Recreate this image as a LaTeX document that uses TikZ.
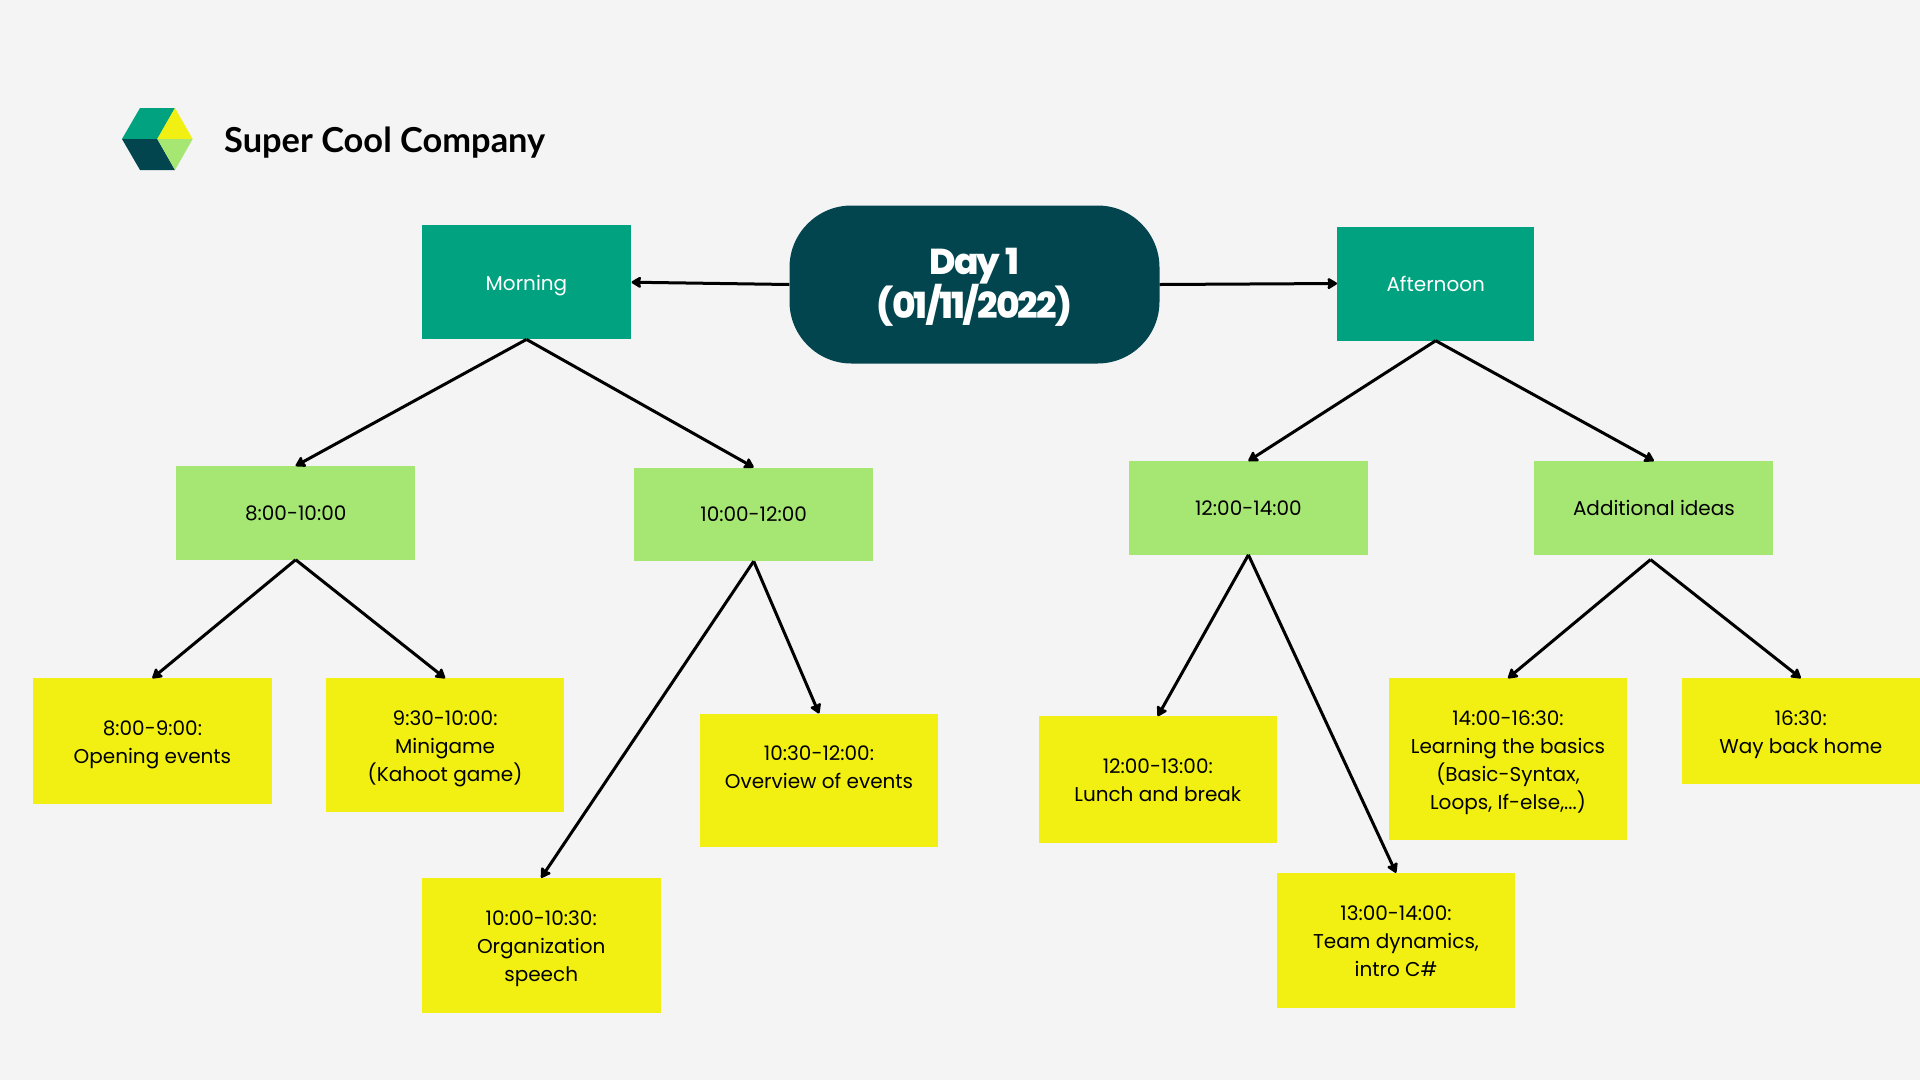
\documentclass[tikz,border=0pt]{standalone}
\usepackage{fontspec}
\setmainfont{Poppins}
\newfontfamily\brandfont{Lato}
\newfontfamily\titlefont[LetterSpace=-5]{Poppins ExtraBold}
\usetikzlibrary{arrows.meta}
\definecolor{pagegray}{HTML}{F4F4F4}
\definecolor{deepteal}{HTML}{02454F}
\definecolor{midgreen}{HTML}{00A27F}
\definecolor{softgreen}{HTML}{A6E673}
\definecolor{notebee}{HTML}{F2F012}
\newcommand{\lowline}{\rule{0pt}{21.5pt}}
\newcommand{\midline}{\rule{0pt}{16pt}}
\tikzset{
    partbox/.style={fill=midgreen,text=white,minimum height=114pt,font=\fontsize{20}{28}\selectfont},
    slotbox/.style={fill=softgreen,minimum width=239pt,minimum height=93.5pt,font=\fontsize{20}{28}\selectfont},
    notebox/.style={fill=notebee,minimum width=238.6pt,align=center,font=\fontsize{20}{28}\selectfont},
    link/.style={-{Stealth[length=11pt,width=13pt,inset=1.5pt,round]},line width=3pt,black}
}
\begin{document}
\begin{tikzpicture}[x=1pt,y=-1pt]
        \useasboundingbox (0,0) rectangle (1920,1080);
        \fill[pagegray] (0,0) rectangle (1920,1080);

        % Logo
        \fill[midgreen] (122,139) -- (140,108) -- (175,108) -- (157.3,139) -- cycle;
        \fill[notebee] (157.3,139) -- (175,108) -- (192.7,139) -- cycle;
        \fill[deepteal] (122,139) -- (157.3,139) -- (175,170) -- (140,170) -- cycle;
        \fill[softgreen] (157.3,139) -- (192.7,139) -- (175,170) -- cycle;
        \node[anchor=west,inner sep=0pt,font=\brandfont\bfseries\fontsize{34.4}{40}\selectfont] (brand) at (224,143) {Super Cool Company};

        % Centre
        \node[fill=deepteal,text=white,rounded corners=62pt,minimum width=370pt,minimum height=158pt,align=center,font=\titlefont\fontsize{36}{44.5}\selectfont] (day) at (974.5,284.5) {\rule{0pt}{32pt}Day 1\\(01/11/2022)};

        % Morning branch
        \node[partbox,minimum width=209.7pt] (morning) at (526.5,282.2) {\lowline Morning};
        \node[slotbox] (early) at (295.7,512.8) {\midline 8:00-10:00};
        \node[slotbox] (late) at (753.7,514.3) {10:00-12:00};
        \node[notebox,minimum height=126pt] (opening) at (152.4,741.4) {\lowline 8:00-9:00:\\Opening events};
        \node[notebox,minimum height=133.4pt] (minigame) at (445.1,745.1) {\lowline 9:30-10:00:\\Minigame\\(Kahoot game)};
        \node[notebox,minimum height=134.7pt] (speech) at (541.2,945.3) {\lowline 10:00-10:30:\\Organization\\speech};
        \node[notebox,minimum height=133.5pt] (overview) at (819,780.4) {\midline 10:30-12:00:\\Overview of events\\\mbox{}};

        % Afternoon branch
        \node[partbox,minimum width=197pt] (afternoon) at (1435.7,283.5) {Afternoon};
        \node[slotbox] (noon) at (1248.4,507.9) {12:00-14:00};
        \node[slotbox] (ideas) at (1653.9,507.9) {Additional ideas};
        \node[notebox,minimum height=126.2pt] (lunch) at (1157.8,779.4) {\midline 12:00-13:00:\\Lunch and break};
        \node[notebox,minimum height=134.8pt] (team) at (1396,940.4) {\midline 13:00-14:00:\\Team dynamics,\\intro C\#};
        \node[notebox,minimum height=161.6pt] (basics) at (1508,759.2) {\lowline 14:00-16:30:\\Learning the basics\\(Basic-Syntax,\\Loops, If-else,...)};
        \node[notebox,minimum height=105.3pt] (home) at (1800.8,731) {\lowline 16:30:\\Way back home};
        \coordinate (ideasout) at (1650.5,559.6);

        % Connectors
        \draw[link] (day.west) -- (morning.east);
        \draw[link] (day.east) -- (afternoon.west);
        \draw[link] (morning.south) -- (early.north);
        \draw[link] (morning.south) -- (late.north);
        \draw[link] (early.south) -- (opening.north);
        \draw[link] (early.south) -- (minigame.north);
        \draw[link] (late.south) -- (speech.north);
        \draw[link] (late.south) -- (overview.north);
        \draw[link] (afternoon.south) -- (noon.north);
        \draw[link] (afternoon.south) -- (ideas.north);
        \draw[link] (noon.south) -- (lunch.north);
        \draw[link] (noon.south) -- (team.north);
        \draw[link] (ideasout) -- (basics.north);
        \draw[link] (ideasout) -- (home.north);
    \end{tikzpicture}
\end{document}
